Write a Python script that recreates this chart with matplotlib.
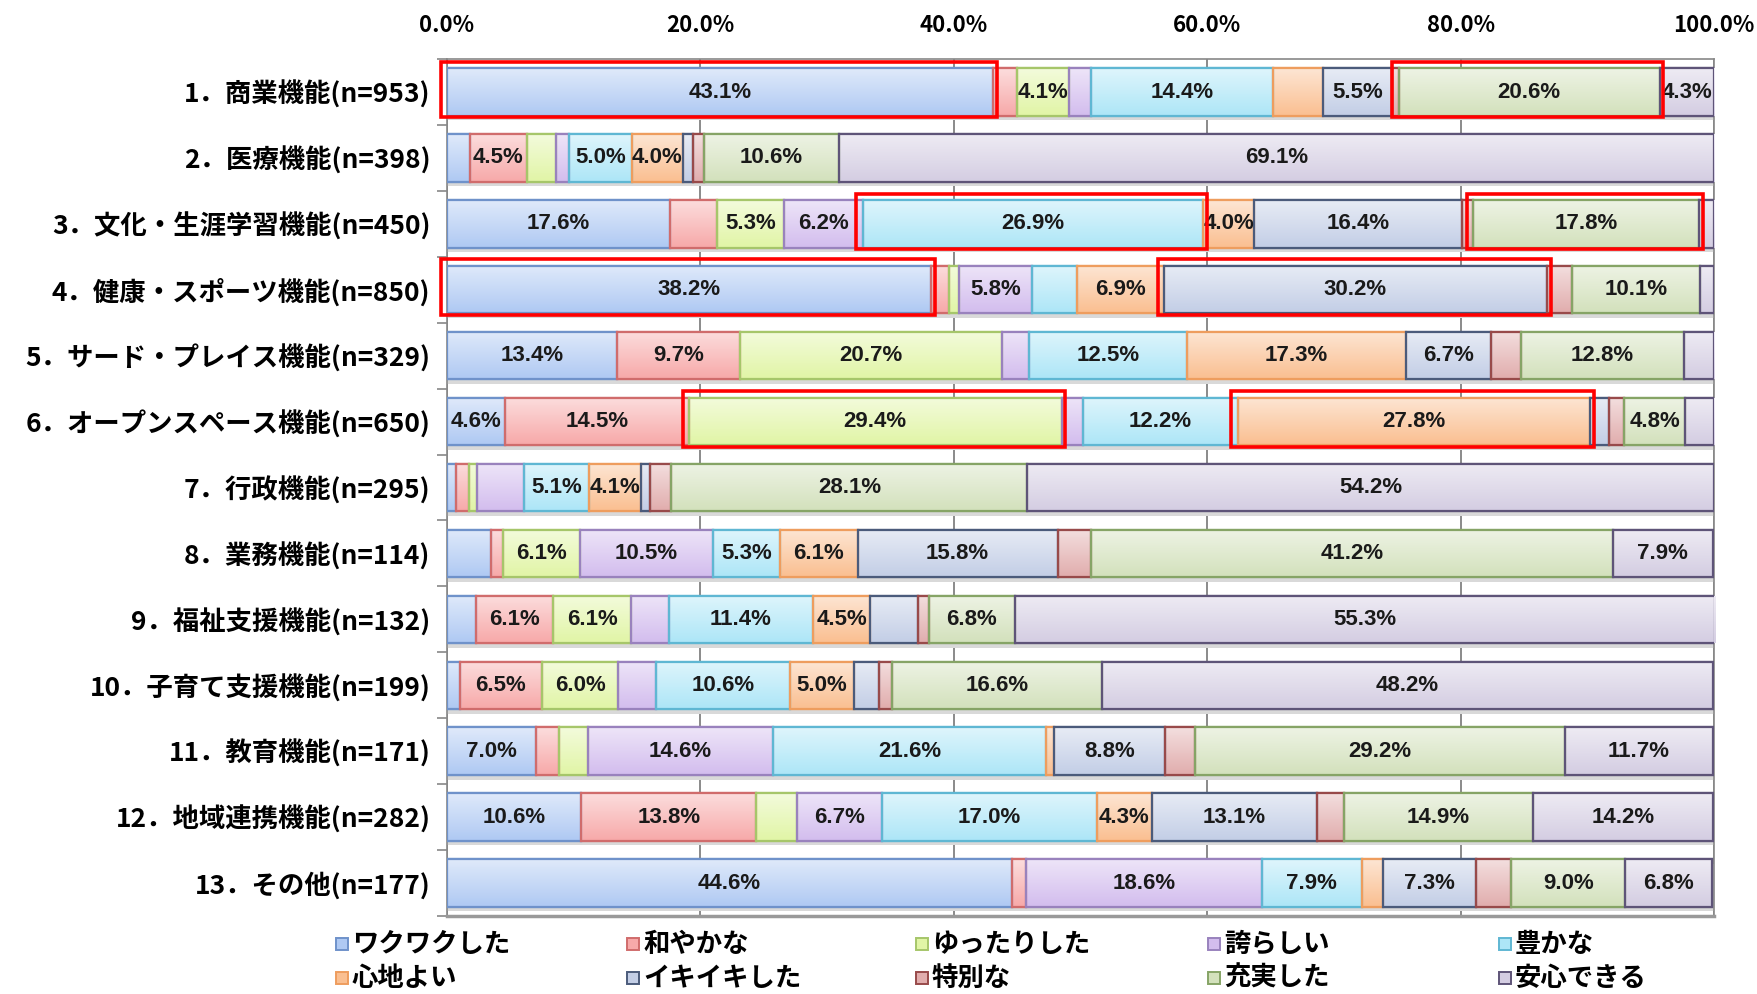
import matplotlib
matplotlib.use("Agg")
import matplotlib.pyplot as plt
from matplotlib.patches import Rectangle
from matplotlib.colors import to_rgb
import numpy as np

plt.rcParams['font.family'] = ['Noto Sans CJK JP', 'DejaVu Sans']

categories = ['1．商業機能(n=953)', '2．医療機能(n=398)', '3．文化・生涯学習機能(n=450)',
              '4．健康・スポーツ機能(n=850)', '5．サード・プレイス機能(n=329)',
              '6．オープンスペース機能(n=650)', '7．行政機能(n=295)', '8．業務機能(n=114)',
              '9．福祉支援機能(n=132)', '10．子育て支援機能(n=199)', '11．教育機能(n=171)',
              '12．地域連携機能(n=282)', '13．その他(n=177)']

series_names = ['ワクワクした', '和やかな', 'ゆったりした', '誇らしい', '豊かな',
                '心地よい', 'イキイキした', '特別な', '充実した', '安心できる']

# one list per answer, 13 values each (rows 1..13)
wakuwaku   = [43.1, 1.8, 17.6, 38.2, 13.4, 4.6, 0.7, 3.5, 2.3, 1.0, 7.0, 10.6, 44.6]
nagoyaka   = [1.9, 4.5, 3.7, 1.4, 9.7, 14.5, 1.0, 0.9, 6.1, 6.5, 1.8, 13.8, 1.1]
yuttari    = [4.1, 2.3, 5.3, 0.8, 20.7, 29.4, 0.7, 6.1, 6.1, 6.0, 2.3, 3.2, 0.0]
hokorashii = [1.7, 1.0, 6.2, 5.8, 2.1, 1.7, 3.7, 10.5, 3.0, 3.0, 14.6, 6.7, 18.6]
yutaka     = [14.4, 5.0, 26.9, 3.5, 12.5, 12.2, 5.1, 5.3, 11.4, 10.6, 21.6, 17.0, 7.9]
kokochi    = [3.9, 4.0, 4.0, 6.9, 17.3, 27.8, 4.1, 6.1, 4.5, 5.0, 0.6, 4.3, 1.7]
ikiiki     = [5.5, 0.8, 16.4, 30.2, 6.7, 1.5, 0.7, 15.8, 3.8, 2.0, 8.8, 13.1, 7.3]
tokubetsu  = [0.5, 0.9, 0.9, 2.0, 2.4, 1.2, 1.7, 2.6, 0.8, 1.0, 2.3, 2.1, 2.8]
juujitsu   = [20.6, 10.6, 17.8, 10.1, 12.8, 4.8, 28.1, 41.2, 6.8, 16.6, 29.2, 14.9, 9.0]
anshin     = [4.3, 69.1, 1.2, 1.1, 2.4, 2.3, 54.2, 7.9, 55.3, 48.2, 11.7, 14.2, 6.8]

series = [wakuwaku, nagoyaka, yuttari, hokorashii, yutaka,
          kokochi, ikiiki, tokubetsu, juujitsu, anshin]

# (row, series) pairs marked with a red frame
highlights = [(0, 0), (0, 8), (2, 4), (2, 8), (3, 0), (3, 6), (5, 2), (5, 5)]

fills = ['#AFC9F3', '#F7A9A9', '#E1F5A6', '#D3BDEE', '#ADE6F7',
         '#FABF91', '#C3CEE6', '#E1ADAD', '#D3E1BC', '#D4CDE2']
edges = ['#6F92CA', '#D06C6C', '#A6C66A', '#9982BD', '#5FB7D3',
         '#EE9D5E', '#4B5B7B', '#984A4A', '#86A466', '#5E5478']

bar_h = 0.72


def gradient(c):
    base = np.array(to_rgb(c))
    top = base + (1 - base) * 0.6
    t = np.linspace(0, 1, 32)[:, None]
    return (top * (1 - t) + base * t)[:, None, :]


fig = plt.figure(figsize=(17.58, 9.94), dpi=100)
ax = fig.add_axes([0.2543, 0.0785, 0.7207, 0.8621])

y = np.arange(len(categories))

# soft shadow under each bar
ax.barh(y + 0.07, [100] * len(y), height=bar_h, color='#D9D9D9', linewidth=0, zorder=2)

left = np.zeros(len(categories))
starts = []
for i, vals in enumerate(series):
    vals = np.array(vals)
    bars = ax.barh(y, vals, left=left, height=bar_h, color=fills[i], edgecolor=edges[i],
                   linewidth=1.6, zorder=3)
    img = gradient(fills[i])
    for r, b in enumerate(bars):
        if vals[r] <= 0:
            continue
        im = ax.imshow(img, extent=(left[r], left[r] + vals[r], r + bar_h / 2, r - bar_h / 2),
                       aspect='auto', origin='upper', zorder=3.5, interpolation='bilinear')
        im.set_clip_path(b)
        ax.add_patch(Rectangle((left[r], r - bar_h / 2), vals[r], bar_h, fill=False,
                               edgecolor=edges[i], linewidth=1.6, zorder=4))
    starts.append(left.copy())
    for r in range(len(categories)):
        if vals[r] >= 4.0:
            ax.text(left[r] + vals[r] / 2, y[r], '%.1f%%' % vals[r], ha='center', va='center',
                    fontsize=16, fontweight='bold', color='#1a1a1a', zorder=5,
                    family=['Liberation Sans', 'DejaVu Sans'])
    left = left + vals

for r, s in highlights:
    x0 = starts[s][r] - 0.5
    w = series[s][r] + 0.8
    ax.add_patch(Rectangle((x0, r - 0.46), w, 0.84, fill=False, edgecolor='#FF0000',
                           linewidth=2.6, zorder=6, clip_on=False))

ax.set_xlim(0, 100)
ax.set_ylim(len(categories) - 0.5, -0.5)
ax.set_xticks([0, 20, 40, 60, 80, 100])
ax.set_xticklabels(['0.0%', '20.0%', '40.0%', '60.0%', '80.0%', '100.0%'],
                   fontsize=16, fontweight='bold')
ax.xaxis.tick_top()
ax.tick_params(axis='x', length=0, pad=16)
ax.set_yticks(y)
ax.set_yticklabels(categories, fontsize=19, fontweight='bold')
ax.set_yticks(np.arange(-0.5, len(categories), 1), minor=True)
ax.tick_params(axis='y', which='major', length=0, pad=12)
ax.tick_params(axis='y', which='minor', length=7, color='#888888', width=1.2)
ax.grid(axis='x', color='#777777', linewidth=1.2, zorder=0)
for side in ['left', 'right', 'top']:
    ax.spines[side].set_color('#888888')
    ax.spines[side].set_linewidth(1.2)
ax.spines['bottom'].set_color('#999999')
ax.spines['bottom'].set_linewidth(2.5)

# legend drawn by hand: 2 rows x 5 equally spaced columns
col_x = [342, 633, 922, 1214, 1505]
row_y = [944, 978]
W, H = 1758.0, 994.0
for k, name in enumerate(series_names):
    cx = col_x[k % 5]
    cy = row_y[k // 5]
    fig.patches.append(Rectangle(((cx - 6) / W, 1 - (cy + 6) / H), 12 / W, 12 / H,
                                 transform=fig.transFigure, facecolor=fills[k],
                                 edgecolor=edges[k], linewidth=1.4))
    fig.text((cx + 10) / W, 1 - cy / H, name, ha='left', va='center',
             fontsize=19, fontweight='bold')

fig.savefig('out.png', dpi=100)
